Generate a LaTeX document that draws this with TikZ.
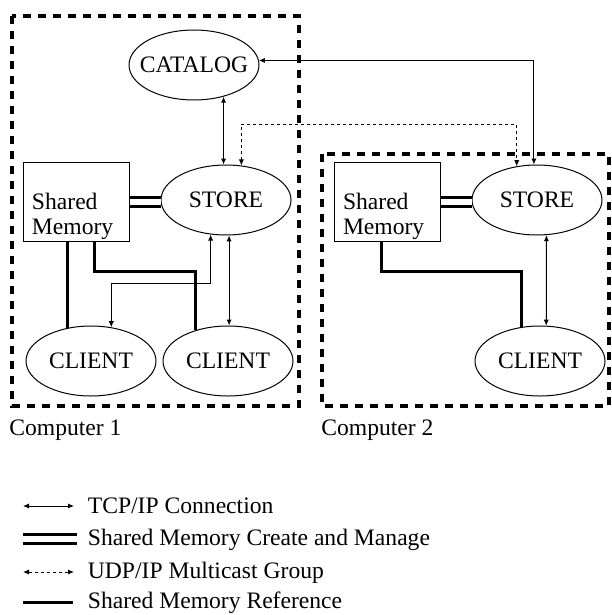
\documentclass[tikz,border=0pt]{standalone}
\usepackage{fontspec}
\setmainfont{Liberation Serif}
\usetikzlibrary{positioning, arrows.meta, shapes.geometric, calc}

\begin{document}
\begin{tikzpicture}[x=0.5pt, y=-0.5pt,
  font=\fontsize{11.8}{12.5}\selectfont,
  proc/.style={draw, ellipse, line width=0.5pt, minimum width=65pt, minimum height=35pt, inner sep=0pt},
  mem/.style={draw, rectangle, line width=0.5pt, minimum height=39.5pt, text width=44pt, inner xsep=4.5pt, align=left, text depth=0pt},
  host/.style={line width=1.6pt, dash pattern=on 4pt off 3.5pt},
  tcp/.style={line width=0.5pt, {Latex[length=3pt,width=2.6pt]}-{Latex[length=3pt,width=2.6pt]}},
  udp/.style={tcp, dash pattern=on 1.5pt off 1.5pt},
  shmem/.style={double, line width=1.5pt, double distance=3pt},
  memref/.style={line width=1.5pt},
  caption/.style={anchor=base west, inner sep=0pt}]
\useasboundingbox (0,0) rectangle (611,615);

% Computer frames
\draw[host] (12,16) rectangle (299,406);
\draw[host] (322,154) rectangle (609,406);
\node[caption] (hostA) at (9,435) {Computer 1};
\node[caption] (hostB) at (321,435) {Computer 2};

% Processes
\node[proc] (catalog) at (194,65) {\makebox[0pt]{CATALOG}};
\node[proc] (storeA) at (226,200) {\makebox[0pt]{STORE}};
\node[proc] (storeB) at (537,200) {\makebox[0pt]{STORE}};
\node[proc] (clientA) at (91,361) {\makebox[0pt]{CLIENT}};
\node[proc] (clientB) at (228,361) {\makebox[0pt]{CLIENT}};
\node[proc] (clientC) at (540,361) {\makebox[0pt]{CLIENT}};

% Shared memory segments
\node[mem] (memA) at (76,201.5) {Shared\\Memory};
\node[mem] (memB) at (387,201.5) {Shared\\Memory};

% Create and manage
\draw[shmem] (memA.east) -- (memA.east -| storeA.west);
\draw[shmem] (memB.east) -- (memB.east -| storeB.west);

% TCP/IP connections
\coordinate (cabend) at (0,283);
\draw[tcp] (catalog.-47) -- (catalog.-47 |- storeA.north);
\draw[tcp] (catalog.4) -| (storeB.95);
\draw[tcp] (storeA.-114) |- (cabend -| clientA.59) -- (clientA.59);
\draw[tcp] (storeA.-85) -- (storeA.-85 |- clientB.north);
\draw[tcp] (storeB.-75) -- (clientC.80);

% Multicast group
\coordinate (udpbend) at (0,124);
\draw[udp] (storeA.66) |- (udpbend -| storeB.121) -- (storeB.121);

% Shared memory references
\coordinate (refbend) at (0,271);
\draw[memref] (memA.south -| clientA.125) -- (clientA.125);
\draw[memref] ($(memA.south)+(18,0)$) |- (refbend -| clientB.136) -- (clientB.136);
\draw[memref] ($(memB.south)+(-6,0)$) |- (refbend -| clientC.118) -- (clientC.118);

% Legend
\coordinate (tcpA) at (23,506);  \coordinate (tcpB) at (74,506);
\coordinate (shmA) at (23,539);  \coordinate (shmB) at (77,539);
\coordinate (udpA) at (23,572);  \coordinate (udpB) at (74,572);
\coordinate (refA) at (23,602);  \coordinate (refB) at (73,602);
\draw[tcp] (tcpA) -- (tcpB);
\draw[shmem] (shmA) -- (shmB);
\draw[udp] (udpA) -- (udpB);
\draw[memref] (refA) -- (refB);
\node[caption] (tcpText) at (87.5,513) {TCP/IP Connection};
\node[caption] (shmText) at (87.5,545.5) {Shared Memory Create and Manage};
\node[caption] (udpText) at (87.5,578) {UDP/IP Multicast Group};
\node[caption] (refText) at (87.5,608) {Shared Memory Reference};
\end{tikzpicture}
\end{document}
